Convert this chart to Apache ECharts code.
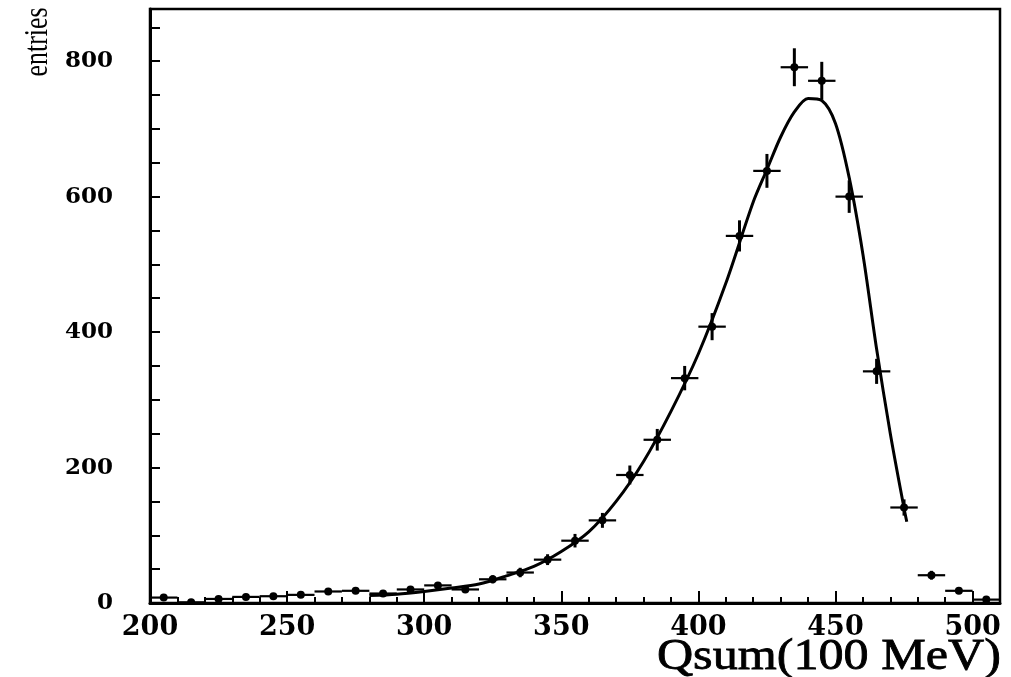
<!DOCTYPE html>
<html>
<head>
<meta charset="utf-8">
<script src="https://cdn.jsdelivr.net/npm/echarts@6/dist/echarts.min.js"></script>
<style>html,body{margin:0;padding:0;background:#fff;}#c{width:1011px;height:677px;}</style>
</head>
<body>
<div id="c"></div>
<script>
// ---- data ----
const binCenters = [205,215,225,235,245,255,265,275,285,295,305,315,325,335,345,355,365,375,385,395,405,415,425,435,445,455,465,475,485,495,505];
const entries    = [8,1,6,9,10,12,17,18,14,20,26,20,35,45,64,92,122,189,241,332,408,542,638,791,771,600,342,141,41,18,5];
const errors     = [3,1,2.5,3,3,3.5,4,4,4,4.5,5,4.5,6,7,8,10,11,14,16,18,20,23,25,28,28,24,18.5,12,6.5,4,2];
const binHalfWidth = 5;
const fitX = [280,290,300,310,320,330,340,350,360,370,380,390,400,410,420,425,430,435,440,445,450,455,460,465,470,475,476];
const fitY = [11,13,17,22,28,40,54,76,105,150,209,283,368,472,592,640,688,725,745,742,708,628,515,375,250,140,120];
const xTickLabels = [200,250,300,350,400,450,500];
const yTickLabels = [0,200,400,600,800];

const pts = binCenters.map((x,i)=>[x, entries[i], errors[i]]);
const fit = fitX.map((x,i)=>[x, fitY[i]]);

const chart = echarts.init(document.getElementById('c'), null, {renderer:'canvas'});
const black = '#000';
chart.setOption({
  backgroundColor:'#fff',
  animation:false,
  grid:{left:150, right:11, top:9, bottom:74, show:true, borderColor:black, borderWidth:2.5, containLabel:false},
  xAxis:[
    {type:'value', min:200, max:510, interval:50, position:'bottom',
     axisLine:{show:true, onZero:false, lineStyle:{color:black, width:3}},
     axisTick:{show:true, inside:true, length:12, lineStyle:{color:black, width:2}},
     axisLabel:{show:true, showMaxLabel:false, showMinLabel:true, margin:11, color:black,
       fontFamily:'DejaVu Serif', fontWeight:'bold', fontSize:27,
       formatter:v=> xTickLabels.includes(v) ? String(v) : ''},
     splitLine:{show:false}},
    {type:'value', min:200, max:510, interval:10, position:'bottom',
     axisLine:{show:false},
     axisTick:{show:true, inside:true, length:6, lineStyle:{color:black, width:2}},
     axisLabel:{show:false}, splitLine:{show:false}}
  ],
  yAxis:[
    {type:'value', min:0, max:877, interval:50,
     axisLine:{show:true, onZero:false, lineStyle:{color:black, width:3}},
     axisTick:{show:true, inside:true, length:10, lineStyle:{color:black, width:2}},
     axisLabel:{show:true, showMaxLabel:false, margin:37, color:black,
       fontFamily:'DejaVu Serif', fontWeight:'bold', fontSize:23,
       formatter:v=> yTickLabels.includes(v) ? String(v) : ''},
     splitLine:{show:false}}
  ],
  graphic:[
    {type:'text', x:38, y:42, rotation:Math.PI/2, scaleX:0.76, scaleY:1,
     style:{text:'entries', fill:black, font:'34px "Liberation Serif"', textAlign:'center', textVerticalAlign:'middle'}},
    {type:'text', x:1001, y:657, scaleX:1.14, scaleY:1,
     style:{text:'Qsum(100 MeV)', fill:black, font:'44px "Liberation Serif"', textAlign:'right', textVerticalAlign:'middle',
       stroke:black, lineWidth:0.8}}
  ],
  series:[
    {type:'line', xAxisIndex:0, yAxisIndex:0, data:fit, smooth:0.3, showSymbol:false, symbol:'none',
     lineStyle:{color:black, width:3}, z:3},
    {type:'custom', xAxisIndex:0, yAxisIndex:0, data:pts, clip:true, z:4,
     renderItem:function(params, api){
       const x = api.value(0), y = api.value(1), e = api.value(2);
       const c = api.coord([x,y]);
       const l = api.coord([x-binHalfWidth,y]);
       const r = api.coord([x+binHalfWidth,y]);
       const t = api.coord([x,y+e]);
       const b = api.coord([x,Math.max(0,y-e)]);
       return {type:'group', children:[
         {type:'line', shape:{x1:l[0],y1:c[1],x2:r[0],y2:c[1]}, style:{stroke:black, lineWidth:2.2}},
         {type:'line', shape:{x1:c[0],y1:t[1],x2:c[0],y2:b[1]}, style:{stroke:black, lineWidth:3}},
         {type:'circle', shape:{cx:c[0],cy:c[1],r:4}, style:{fill:black}}
       ]};
     }}
  ]
});
</script>
</body>
</html>
